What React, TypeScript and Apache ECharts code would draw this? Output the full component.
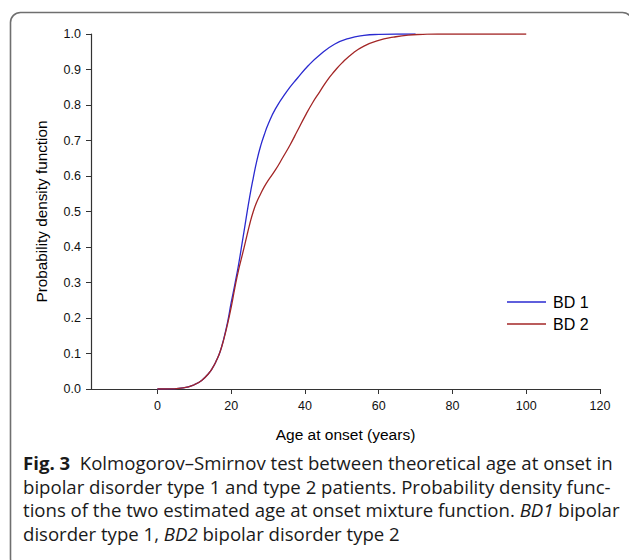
import React, { useEffect, useRef } from "react";
import * as echarts from "echarts";

const bd1Ages = [0, 4, 7, 10, 12, 14, 15, 16, 17, 18, 19, 20, 21, 22, 23, 24, 25, 26, 27, 28, 29, 30, 32, 35, 38, 41, 44, 48, 52, 56, 60, 65, 70];
const bd1Values = [0, 0.0005, 0.003, 0.012, 0.024, 0.045, 0.06, 0.08, 0.105, 0.142, 0.187, 0.243, 0.295, 0.35, 0.413, 0.477, 0.54, 0.595, 0.645, 0.685, 0.717, 0.745, 0.789, 0.837, 0.876, 0.912, 0.941, 0.971, 0.988, 0.996, 0.999, 1, 1];

const bd2Ages = [0, 4, 7, 10, 12, 14, 15, 16, 17, 18, 19, 20, 21, 22, 23, 24, 25, 26, 27, 28, 29, 30, 32, 34, 36, 38, 40, 42, 44, 46, 48, 50, 53, 56, 60, 64, 68, 72, 76, 80, 90, 100];
const bd2Values = [0, 0.0005, 0.003, 0.012, 0.024, 0.045, 0.06, 0.08, 0.105, 0.14, 0.182, 0.23, 0.285, 0.335, 0.377, 0.42, 0.463, 0.5, 0.528, 0.55, 0.57, 0.587, 0.617, 0.652, 0.688, 0.728, 0.768, 0.805, 0.837, 0.869, 0.895, 0.918, 0.946, 0.966, 0.982, 0.991, 0.997, 0.999, 1, 1, 1, 1];

const xTicks = [0, 20, 40, 60, 80, 100, 120];
const seriesNames = ["BD 1", "BD 2"];

const captionLines = [
  "{b|Fig. 3}  Kolmogorov–Smirnov test between theoretical age at onset in",
  "bipolar disorder type 1 and type 2 patients. Probability density func-",
  "tions of the two estimated age at onset mixture function. {i|BD1} bipolar",
  "disorder type 1, {i|BD2} bipolar disorder type 2",
];

export default function App() {
  const ref = useRef<HTMLDivElement>(null);
  useEffect(() => {
    if (!ref.current) return;
    const chart = echarts.init(ref.current, undefined, { renderer: "svg" });
    const capFont = "'Open Sans', sans-serif";
    const capSize = 18.6;
    const axFont = "'Liberation Sans', Arial, sans-serif";
    const option: any = {
      animation: false,
      backgroundColor: "#ffffff",
      grid: { left: 91, right: 29, top: 34, bottom: 171 },
      xAxis: {
        type: "value",
        min: -18,
        max: 120,
        name: "Age at onset (years)",
        nameLocation: "middle",
        nameGap: 37,
        nameTextStyle: { fontFamily: axFont, fontSize: 15.5, color: "#000" },
        axisLine: { onZero: false, lineStyle: { color: "#333", width: 1.2 } },
        axisTick: { show: true, length: 5, customValues: xTicks, lineStyle: { color: "#333" } },
        axisLabel: {
          customValues: xTicks,
          margin: 10,
          fontFamily: axFont,
          fontSize: 12.5,
          color: "#111",
        },
        splitLine: { show: false },
      },
      yAxis: {
        type: "value",
        min: 0,
        max: 1,
        interval: 0.1,
        name: "Probability density function",
        nameLocation: "middle",
        nameGap: 42,
        nameTextStyle: { fontFamily: axFont, fontSize: 15.3, color: "#000" },
        axisLine: { show: true, onZero: false, lineStyle: { color: "#333", width: 1.2 } },
        axisTick: { show: true, length: 5, lineStyle: { color: "#333" } },
        axisLabel: {
          margin: 10,
          fontFamily: axFont,
          fontSize: 12.5,
          color: "#111",
          formatter: (v: number) => v.toFixed(1),
        },
        splitLine: { show: false },
      },
      legend: {
        orient: "vertical",
        left: 502,
        top: 288,
        icon: "rect",
        itemWidth: 39,
        itemHeight: 1.6,
        itemGap: 4,
        textStyle: { fontFamily: axFont, fontSize: 16, color: "#000", padding: [0, 0, 0, 2], lineHeight: 18 },
        data: seriesNames,
      },
      series: [
        {
          name: seriesNames[0],
          type: "line",
          data: bd1Ages.map((a, i) => [a, bd1Values[i]]),
          smooth: 0.5,
          symbol: "none",
          lineStyle: { color: "#2a2ad0", width: 1.3 },
          itemStyle: { color: "#2a2ad0" },
        },
        {
          name: seriesNames[1],
          type: "line",
          data: bd2Ages.map((a, i) => [a, bd2Values[i]]),
          smooth: 0.5,
          symbol: "none",
          lineStyle: { color: "#a32626", width: 1.3 },
          itemStyle: { color: "#a32626" },
        },
      ],
      graphic: [
        {
          type: "rect",
          shape: { x: 10.5, y: 12.5, width: 622, height: 556, r: 10 },
          style: { fill: "none", stroke: "#6f6f6f", lineWidth: 1.6 },
          silent: true,
        },
        ...captionLines.map((t, i) => ({
          type: "text",
          left: 23,
          top: 453 + i * 23.7,
          style: {
            text: t,
            fontFamily: capFont,
            fontSize: capSize,
            fill: "#1a1a1a",
            rich: {
              b: { fontFamily: capFont, fontSize: capSize, fontWeight: "bold", fill: "#1a1a1a" },
              i: { fontFamily: capFont, fontSize: capSize, fontStyle: "italic", fill: "#1a1a1a" },
            },
          },
        })),
      ],
    };
    chart.setOption(option);
    return () => chart.dispose();
  }, []);
  return (
    <div
      ref={ref}
      style={{ position: "fixed", left: 0, top: 0, width: 629, height: 560, background: "#fff" }}
    />
  );
}
